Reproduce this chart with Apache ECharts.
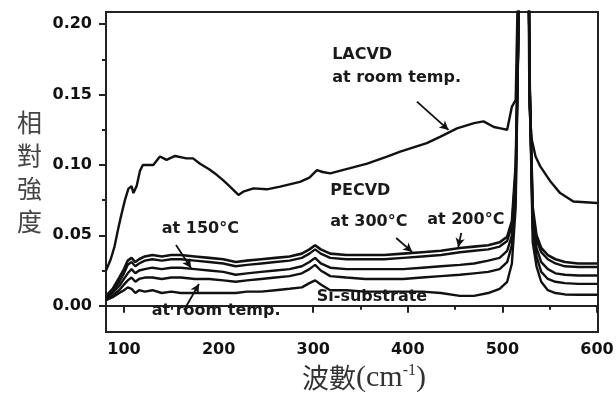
<!DOCTYPE html>
<html>
<head>
<meta charset="utf-8">
<script src="https://cdn.jsdelivr.net/npm/echarts@6/dist/echarts.min.js"></script>
<style>
html, body { margin: 0; padding: 0; background: #fff; }
#chart { width: 616px; height: 398px; }
</style>
</head>
<body>
<div id="chart"></div>
<script>
// wavenumbers (cm-1) for the PECVD and substrate spectra
var wnLow = [81, 88, 95, 100, 104, 108, 112, 116, 122, 130, 140, 150, 160, 175, 190, 205, 218, 230, 245, 260,
	275, 288, 296, 302, 308, 318, 335, 355, 375, 395, 415, 435, 455, 470, 485, 497, 505, 510, 514, 517,
	520, 523, 526, 529, 532, 536, 541, 548, 556, 566, 580, 600]

var pe300 = [0.007, 0.012, 0.020, 0.026, 0.032, 0.034, 0.031, 0.033, 0.035, 0.036, 0.035, 0.036, 0.036, 0.035, 0.034, 0.033, 0.031, 0.032, 0.033, 0.034,
	0.035, 0.037, 0.040, 0.043, 0.040, 0.037, 0.036, 0.036, 0.036, 0.037, 0.038, 0.039, 0.041, 0.042, 0.043, 0.045, 0.049, 0.060, 0.100, 0.200,
	0.400, 0.600, 0.350, 0.150, 0.070, 0.050, 0.041, 0.036, 0.033, 0.031, 0.030, 0.030]
var pe200 = [0.006, 0.010, 0.017, 0.023, 0.029, 0.031, 0.028, 0.030, 0.032, 0.033, 0.032, 0.033, 0.033, 0.032, 0.031, 0.030, 0.028, 0.029, 0.030, 0.031,
	0.032, 0.034, 0.037, 0.040, 0.037, 0.034, 0.033, 0.033, 0.033, 0.034, 0.035, 0.036, 0.038, 0.039, 0.040, 0.042, 0.046, 0.057, 0.095, 0.200,
	0.400, 0.600, 0.350, 0.150, 0.066, 0.047, 0.038, 0.033, 0.030, 0.028, 0.0275, 0.0275]
var pe150 = [0.005, 0.009, 0.014, 0.019, 0.023, 0.026, 0.023, 0.025, 0.026, 0.027, 0.026, 0.027, 0.027, 0.026, 0.025, 0.024, 0.022, 0.023, 0.024, 0.025,
	0.026, 0.028, 0.031, 0.034, 0.030, 0.027, 0.026, 0.026, 0.026, 0.026, 0.027, 0.028, 0.029, 0.030, 0.032, 0.034, 0.039, 0.050, 0.088, 0.200,
	0.400, 0.600, 0.350, 0.150, 0.060, 0.041, 0.031, 0.026, 0.023, 0.022, 0.0215, 0.0215]
var peRoom = [0.004, 0.007, 0.011, 0.015, 0.018, 0.020, 0.017, 0.019, 0.020, 0.020, 0.019, 0.020, 0.020, 0.019, 0.019, 0.018, 0.017, 0.018, 0.019, 0.020,
	0.021, 0.023, 0.026, 0.029, 0.025, 0.021, 0.020, 0.019, 0.019, 0.019, 0.020, 0.021, 0.022, 0.023, 0.024, 0.026, 0.031, 0.043, 0.080, 0.200,
	0.400, 0.600, 0.350, 0.150, 0.055, 0.035, 0.024, 0.019, 0.017, 0.016, 0.0155, 0.0155]
var siSub = [0.004, 0.006, 0.009, 0.011, 0.013, 0.012, 0.009, 0.011, 0.010, 0.011, 0.009, 0.010, 0.009, 0.009, 0.009, 0.009, 0.009, 0.010, 0.010, 0.011,
	0.012, 0.013, 0.016, 0.018, 0.015, 0.011, 0.011, 0.010, 0.010, 0.010, 0.010, 0.009, 0.007, 0.007, 0.009, 0.012, 0.017, 0.030, 0.070, 0.200,
	0.400, 0.600, 0.350, 0.150, 0.045, 0.028, 0.017, 0.011, 0.009, 0.008, 0.0078, 0.0078]

// LACVD spectrum
var wnLa = [81, 86, 90, 94, 97, 101, 104.6, 108, 110, 113.4, 117, 120, 131, 138, 142, 145, 154, 166, 173, 180,
	190, 198, 205, 212, 221, 226, 237, 251, 265, 286, 296, 304, 310, 318, 339, 357, 378, 392, 420, 434,
	452, 470, 480, 491, 498, 505, 510, 514, 517, 520, 523, 526, 528.5, 531, 535, 540, 551, 561, 575, 600]
var lacvd = [0.025, 0.033, 0.042, 0.055, 0.064, 0.075, 0.083, 0.085, 0.080, 0.085, 0.096, 0.100, 0.100, 0.106, 0.1047, 0.1036, 0.1064, 0.1047, 0.1047, 0.101,
	0.097, 0.093, 0.089, 0.0846, 0.0787, 0.081, 0.0834, 0.0827, 0.0846, 0.088, 0.091, 0.0964, 0.095, 0.094, 0.0977, 0.101, 0.106, 0.1095, 0.1155, 0.120,
	0.126, 0.1297, 0.131, 0.127, 0.126, 0.125, 0.1415, 0.146, 0.250, 0.500, 0.600, 0.400, 0.140, 0.118, 0.106, 0.099, 0.088, 0.080, 0.074, 0.073]

var xTicks = [100, 200, 300, 400, 500, 600]
var xMinor = [150, 250, 350, 450, 550]
var yTicks = [0, 0.05, 0.1, 0.15, 0.2]
var yMinor = [0.025, 0.075, 0.125, 0.175]

// annotation texts: [text, wavenumber, intensity] (left edge, middle of text)
var notes = [
	["LACVD", 320, 0.178],
	["at room temp.", 320, 0.1622],
	["PECVD", 318, 0.0815],
	["at 300°C", 318, 0.0595],
	["at 200°C", 420.5, 0.0609],
	["at 150°C", 140, 0.0545],
	["at room temp.", 129.3, -0.0038],
	["Si-substrate", 303.8, 0.0062]
]
// arrows: [fromX, fromY, toX, toY]
var arrows = [
	[409.6, 0.145, 443, 0.1249],
	[155, 0.0431, 170.9, 0.0268],
	[163.5, -0.0031, 179.3, 0.0154],
	[387.7, 0.0481, 404.6, 0.0382],
	[456.5, 0.0517, 453.3, 0.0417]
]

var xMin = 81, xMax = 601
var yMin = -0.0187, yMax = 0.2087

function zip(xs, ys) {
	var out = []
	for (var i = 0; i < xs.length; i++) {
		out.push([xs[i], ys[i]])
	}
	return out
}

var chart = echarts.init(document.getElementById("chart"))

var labelFont = {
	fontFamily: "DejaVu Sans",
	fontWeight: "bold",
	fontSize: 16,
	color: "#111"
}
var axisLine = { show: true, lineStyle: { color: "#222", width: 2 } }

function curve(name, xs, ys, width) {
	return {
		name: name,
		type: "line",
		data: zip(xs, ys),
		showSymbol: false,
		symbol: "none",
		lineStyle: { color: "#111", width: width },
		xAxisIndex: 0,
		yAxisIndex: 0,
		z: 3
	}
}

var option = {
	backgroundColor: "#fff",
	animation: false,
	grid: {
		left: 106,
		right: 18,
		top: 12,
		bottom: 66,
		show: true,
		borderColor: "#222",
		borderWidth: 2,
		containLabel: false,
		outerBoundsMode: "none"
	},
	xAxis: [
		{
			type: "value",
			min: xMin,
			max: xMax,
			position: "bottom",
			axisLine: axisLine,
			axisTick: { show: true, customValues: xTicks, length: 7, lineStyle: { color: "#222", width: 2 } },
			axisLabel: Object.assign({ customValues: xTicks, margin: 10 }, labelFont),
			splitLine: { show: false },
			name: "{c|波數}{l|(cm}{s|-1}{l|)}",
			nameLocation: "middle",
			nameGap: 29,
			nameTextStyle: {
				padding: [0, 0, 0, 24],
				rich: {
					c: { fontFamily: "Noto Sans CJK TC", fontSize: 27, color: "#333" },
					l: { fontFamily: "Liberation Serif", fontSize: 30, color: "#333" },
					s: { fontFamily: "Liberation Serif", fontSize: 16, color: "#333", verticalAlign: "top" }
				}
			}
		},
		{
			type: "value",
			min: xMin,
			max: xMax,
			position: "bottom",
			axisLine: { show: false },
			axisTick: { show: true, customValues: xMinor, length: 4, lineStyle: { color: "#222", width: 2 } },
			axisLabel: { show: false },
			splitLine: { show: false }
		}
	],
	yAxis: [
		{
			type: "value",
			min: yMin,
			max: yMax,
			position: "left",
			axisLine: axisLine,
			axisTick: { show: true, customValues: yTicks, length: 7, lineStyle: { color: "#222", width: 2 } },
			axisLabel: Object.assign({
				customValues: yTicks,
				margin: 14,
				formatter: function (v) { return v.toFixed(2) }
			}, labelFont),
			splitLine: { show: false },
			name: "相\n對\n強\n度",
			nameLocation: "middle",
			nameRotate: 0,
			nameGap: 64,
			nameTextStyle: {
				fontFamily: "Noto Sans CJK TC",
				fontSize: 25,
				lineHeight: 33,
				color: "#444",
				padding: [0, 0, 14, 0]
			}
		},
		{
			type: "value",
			min: yMin,
			max: yMax,
			position: "left",
			axisLine: { show: false },
			axisTick: { show: true, customValues: yMinor, length: 4, lineStyle: { color: "#222", width: 2 } },
			axisLabel: { show: false },
			splitLine: { show: false }
		}
	],
	series: [
		curve("LACVD at room temp.", wnLa, lacvd, 2.4),
		curve("PECVD at 300°C", wnLow, pe300, 2.6),
		curve("PECVD at 200°C", wnLow, pe200, 2.4),
		curve("PECVD at 150°C", wnLow, pe150, 2.4),
		curve("PECVD at room temp.", wnLow, peRoom, 2.4),
		curve("Si-substrate", wnLow, siSub, 2.4),
		{
			name: "arrows",
			type: "line",
			data: [],
			xAxisIndex: 0,
			yAxisIndex: 0,
			markLine: {
				silent: true,
				symbol: ["none", "arrow"],
				symbolSize: [7, 9],
				label: { show: false },
				lineStyle: { color: "#111", width: 1.8, type: "solid" },
				data: arrows.map(function (a) {
					return [{ coord: [a[0], a[1]] }, { coord: [a[2], a[3]] }]
				})
			}
		}
	]
}

chart.setOption(option)

// place the annotation texts in data coordinates
var texts = notes.map(function (n) {
	var p = chart.convertToPixel({ xAxisIndex: 0, yAxisIndex: 0 }, [n[1], n[2]])
	return {
		type: "text",
		x: p[0],
		y: p[1],
		z: 10,
		style: {
			text: n[0],
			fill: "#1a1a1a",
			font: 'bold 16px "DejaVu Sans"',
			align: "left",
			verticalAlign: "middle"
		}
	}
})
chart.setOption({ graphic: texts })
</script>
</body>
</html>
